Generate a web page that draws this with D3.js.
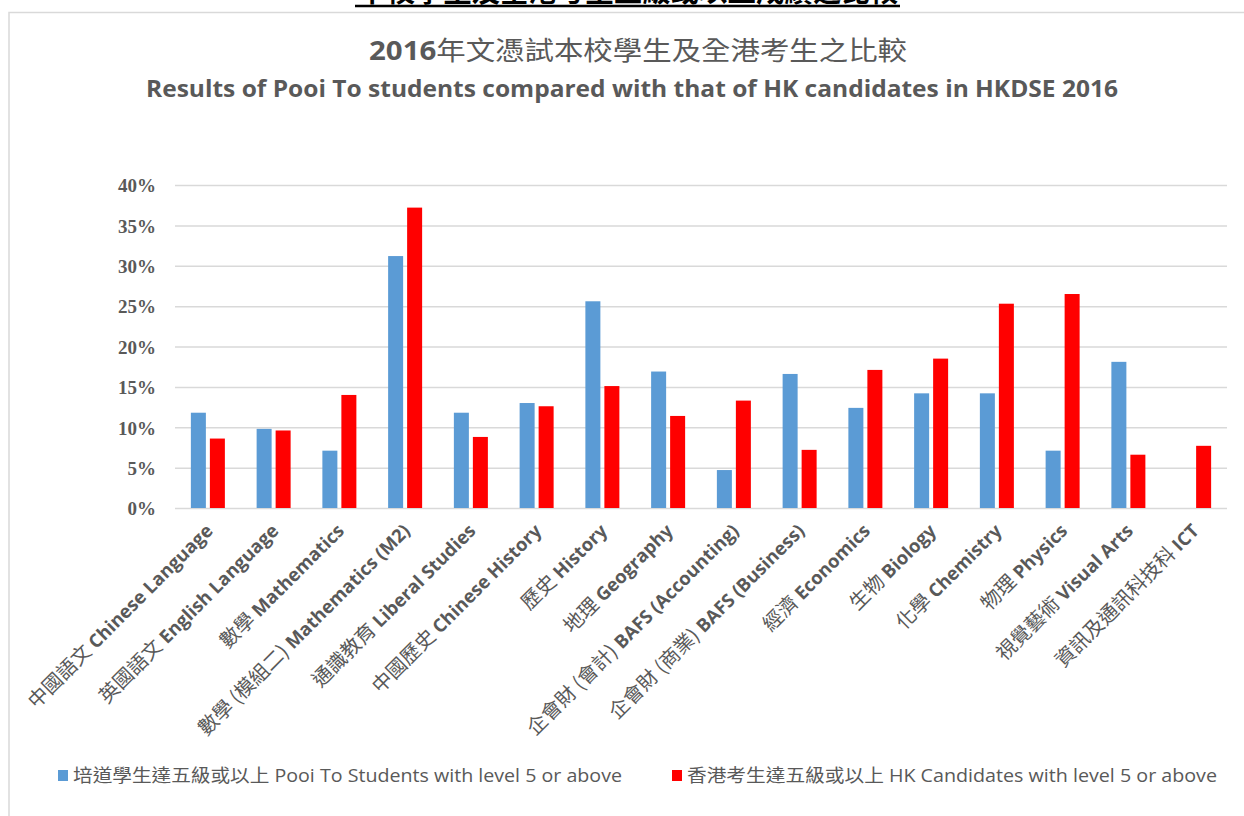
<!DOCTYPE html>
<html lang="zh-Hant">
<head>
    <meta charset="UTF-8">
    <title>2016年文憑試本校學生及全港考生之比較</title>
    <style>
        body {
            margin: 0;
            background-color: #ffffff;
        }
        svg {
            display: block;
        }
        .grid line {
            stroke: #d9d9d9;
            stroke-width: 1.5px;
        }
        .grid .domain {
            display: none;
        }
        .ytick text {
            font-family: "Liberation Serif", "Times New Roman", serif;
            font-weight: bold;
            font-size: 19px;
            fill: #595959;
        }
        .xlabel {
            font-family: "Open Sans", "Noto Sans CJK TC", sans-serif;
            font-size: 18.5px;
            fill: #595959;
        }
        .xlabel .zh {
            font-family: "Noto Sans CJK TC", sans-serif;
            font-weight: normal;
            font-size: 20px;
        }
        .xlabel .en {
            font-weight: bold;
        }
        .legend text {
            font-family: "Open Sans", "Noto Sans CJK TC", sans-serif;
            font-size: 18px;
            fill: #595959;
        }
    </style>
</head>
<body>
    <svg id="chart" width="1244" height="816"></svg>
    <script src="https://d3js.org/d3.v7.min.js"></script>
    <script>
        // Subject labels (Chinese part / English part)
        const subjectsZh = ["中國語文", "英國語文", "數學", "數學 (模組二)", "通識教育", "中國歷史", "歷史", "地理",
            "企會財 (會計)", "企會財 (商業)", "經濟", "生物", "化學", "物理", "視覺藝術", "資訊及通訊科技科"];
        const subjectsEn = ["Chinese Language", "English Language", "Mathematics", "Mathematics (M2)", "Liberal Studies",
            "Chinese History", "History", "Geography", "BAFS (Accounting)", "BAFS (Business)", "Economics", "Biology",
            "Chemistry", "Physics", "Visual Arts", "ICT"];

        // % of candidates reaching level 5 or above
        const pooiTo = [11.8, 9.8, 7.1, 31.2, 11.8, 13.0, 25.6, 16.9, 4.7, 16.6, 12.4, 14.2, 14.2, 7.1, 18.1, 0];
        const hkAll = [8.6, 9.6, 14.0, 37.2, 8.8, 12.6, 15.1, 11.4, 13.3, 7.2, 17.1, 18.5, 25.3, 26.5, 6.6, 7.7];

        const seriesNames = ["培道學生達五級或以上 Pooi To Students with level 5 or above",
            "香港考生達五級或以上 HK Candidates with level 5 or above"];
        const seriesColors = ["#5b9bd5", "#ff0000"];
        const yTicks = [0, 5, 10, 15, 20, 25, 30, 35, 40];

        const svg = d3.select("#chart");

        // chart frame
        svg.append("rect")
            .attr("x", 9).attr("y", 12.5)
            .attr("width", 1260).attr("height", 820)
            .attr("fill", "none")
            .attr("stroke", "#d9d9d9")
            .attr("stroke-width", 1.5);

        // page heading, cut off at the top as in the source page
        svg.append("text")
            .attr("x", 628).attr("y", 2)
            .attr("text-anchor", "middle")
            .attr("font-family", "Noto Sans CJK TC, sans-serif")
            .attr("font-weight", "bold")
            .attr("font-size", 28)
            .attr("textLength", 540)
            .attr("lengthAdjust", "spacingAndGlyphs")
            .text("本校學生及全港考生五級或以上成績之比較");
        svg.append("line")
            .attr("x1", 355).attr("x2", 900)
            .attr("y1", 6).attr("y2", 6)
            .attr("stroke", "#000").attr("stroke-width", 2.5);

        // titles
        svg.append("text")
            .attr("x", 638).attr("y", 60)
            .attr("text-anchor", "middle")
            .attr("font-family", "Open Sans, Noto Sans CJK TC, sans-serif")
            .attr("font-size", 26)
            .attr("fill", "#595959")
            .attr("textLength", 538)
            .attr("lengthAdjust", "spacingAndGlyphs")
            .call(t => {
                t.append("tspan").attr("font-weight", "bold").text("2016");
                t.append("tspan").text("年文憑試本校學生及全港考生之比較");
            });

        svg.append("text")
            .attr("x", 632).attr("y", 97)
            .attr("text-anchor", "middle")
            .attr("font-family", "Open Sans, sans-serif")
            .attr("font-weight", "bold")
            .attr("font-size", 23)
            .attr("fill", "#595959")
            .attr("textLength", 972)
            .attr("lengthAdjust", "spacingAndGlyphs")
            .text("Results of Pooi To students compared with that of HK candidates in HKDSE 2016");

        const plotLeft = 175, plotRight = 1227, plotTop = 185, plotBottom = 508;

        const x = d3.scaleBand()
            .domain(d3.range(subjectsEn.length))
            .range([plotLeft, plotRight]);

        const x1 = d3.scaleBand()
            .domain([0, 1])
            .range([x.bandwidth() / 2 - 17, x.bandwidth() / 2 + 17])
            .paddingInner(4 / 19);

        const y = d3.scaleLinear()
            .domain([0, 40])
            .range([plotBottom, plotTop]);

        // gridlines
        svg.append("g")
            .attr("class", "grid")
            .attr("transform", `translate(${plotLeft},0)`)
            .call(d3.axisLeft(y).tickValues(yTicks).tickSize(-(plotRight - plotLeft)).tickFormat(""));

        // y tick labels
        svg.append("g")
            .attr("class", "ytick")
            .attr("transform", `translate(${plotLeft - 19},0)`)
            .call(d3.axisLeft(y).tickValues(yTicks).tickSize(0).tickPadding(0).tickFormat(d => d + "%"))
            .call(g => g.select(".domain").remove())
            .call(g => g.selectAll("text").attr("dy", "0.36em"));

        // bars
        const data = subjectsEn.map((s, i) => [pooiTo[i], hkAll[i]]);
        const groups = svg.append("g")
            .selectAll("g")
            .data(data)
            .join("g")
            .attr("transform", (d, i) => `translate(${x(i)},0)`);

        groups.selectAll("rect")
            .data(d => d.map((v, k) => ({ v, k })))
            .join("rect")
            .attr("x", d => x1(d.k))
            .attr("width", x1.bandwidth())
            .attr("y", d => y(d.v))
            .attr("height", d => y(0) - y(d.v))
            .attr("fill", d => seriesColors[d.k]);

        // x labels, rotated
        const labels = svg.append("g")
            .selectAll("text")
            .data(subjectsEn.map((s, i) => i))
            .join("text")
            .attr("class", "xlabel")
            .attr("text-anchor", "end")
            .attr("transform", i => `translate(${x(i) + x.bandwidth() / 2 + 6},${plotBottom + 24}) rotate(-45)`);
        labels.append("tspan").attr("class", "zh").text(i => subjectsZh[i] + " ");
        labels.append("tspan").attr("class", "en").text(i => subjectsEn[i]);

        // legend
        const legendX = [58, 672];
        const legendW = [549, 530];
        const legend = svg.append("g")
            .attr("class", "legend")
            .selectAll("g")
            .data(seriesNames)
            .join("g")
            .attr("transform", (d, i) => `translate(${legendX[i]},770)`);
        legend.append("rect")
            .attr("width", 10).attr("height", 11)
            .attr("fill", (d, i) => seriesColors[i]);
        legend.append("text")
            .attr("x", 15).attr("y", 12)
            .attr("textLength", (d, i) => legendW[i])
            .attr("lengthAdjust", "spacingAndGlyphs")
            .text(d => d);
    </script>
</body>
</html>
